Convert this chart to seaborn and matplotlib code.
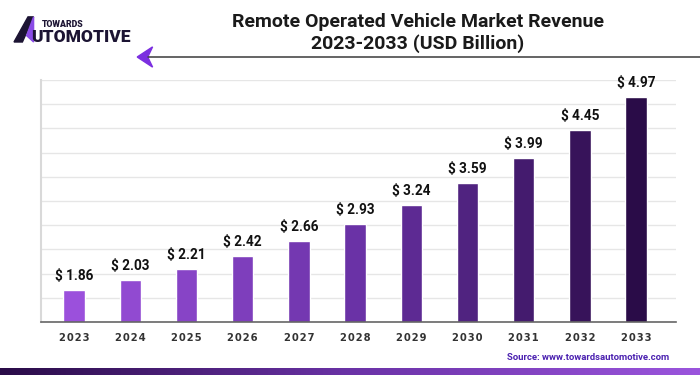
import numpy as np
import pandas as pd
import matplotlib
matplotlib.use("Agg")
from matplotlib import pyplot as plt
from matplotlib.colors import LinearSegmentedColormap
from matplotlib.patches import Polygon
from matplotlib.lines import Line2D
import seaborn as sns

years = ["2023", "2024", "2025", "2026", "2027", "2028", "2029", "2030", "2031", "2032", "2033"]
revenue = [1.86, 2.03, 2.21, 2.42, 2.66, 2.93, 3.24, 3.59, 3.99, 4.45, 4.97]

title = "Remote Operated Vehicle Market Revenue\n2023-2033 (USD Billion)"
source = "Source: www.towardsautomotive.com"

sns.set_style("white")
plt.rcParams["font.family"] = ["Roboto", "DejaVu Sans"]

purple_map = LinearSegmentedColormap.from_list("tp", ["#9b50dc", "#6a32a6", "#2a0c48"])
bar_colors = [purple_map(i / (len(years) - 1)) for i in range(len(years))]

df = pd.DataFrame({"Year": years, "Revenue": revenue})

fig = plt.figure(figsize=(7, 3.75), dpi=100)
ax = fig.add_axes([0.0586, 0.1413, 0.907, 0.6453])

sns.barplot(data=df, x="Year", y="Revenue", hue="Year", palette=bar_colors,
            legend=False, width=0.38, ax=ax, saturation=1)

y_lo, y_hi = 1.35, 5.25
ax.set_ylim(y_lo, y_hi)
ax.set_xlim(-0.59, 10.71)
ax.set_yticks(np.linspace(y_lo, y_hi, 11))
ax.set_yticklabels([])
ax.tick_params(axis="y", length=0)
ax.grid(axis="y", color="#e6e6e6", linewidth=1)
ax.set_axisbelow(True)

ax.set_xticks(range(len(years)))
ax.set_xticklabels(["\u200a".join(y) for y in years], fontsize=7.2,
                   fontweight="bold", color="#333333", family=["DejaVu Sans"])
ax.tick_params(axis="x", length=0, pad=8)
ax.set_xlabel("")
ax.set_ylabel("")

for side in ["top", "right"]:
    ax.spines[side].set_visible(False)
ax.spines["left"].set_color("#d9d9d9")
ax.spines["left"].set_linewidth(1.5)
ax.spines["bottom"].set_color("#666666")
ax.spines["bottom"].set_linewidth(1.2)

for i, v in enumerate(revenue):
    ax.annotate(f"$ {v:.2f}", (i, v), xytext=(0, 5), textcoords="offset points",
                ha="center", va="bottom", fontsize=9.8, fontweight="bold", color="#111111")

fig.text(0.597, 0.912, title, ha="center", va="center", fontsize=14,
         fontweight="bold", color="#1a1a1a", linespacing=1.2)

fig.text(0.956, 0.048, source, ha="right", va="center", fontsize=6.8,
         fontweight="bold", color="#4b21b0")

# header rule with arrow
fig.add_artist(Line2D([0.212, 1.0], [0.848, 0.848], color="#3a3a3a", linewidth=1.1))
fig.add_artist(Polygon([[0.196, 0.848], [0.218, 0.875], [0.211, 0.848], [0.218, 0.821]],
                       closed=True, color="#7b2fe0", transform=fig.transFigure))

# logo
fig.add_artist(Polygon([[0.020, 0.888], [0.040, 0.955], [0.048, 0.955], [0.032, 0.888]],
                       closed=True, color="#1c1433", transform=fig.transFigure))
fig.add_artist(Polygon([[0.038, 0.905], [0.048, 0.955], [0.048, 0.888]],
                       closed=True, color="#8a4be6", transform=fig.transFigure))
fig.text(0.060, 0.935, "TOWARDS", fontsize=6.3, fontweight="heavy", color="#1c1433",
         ha="left", va="center")
fig.text(0.044, 0.900, "UTOMOTIVE", fontsize=12.5, fontweight="heavy", color="#1c1433",
         ha="left", va="center")

# bottom gradient band
band = fig.add_axes([0, 0, 1, 0.018])
band.imshow(np.linspace(0, 1, 256).reshape(1, -1), aspect="auto",
            cmap=LinearSegmentedColormap.from_list("band", ["#2a0c48", "#6a32a6", "#9b55dd"]))
band.axis("off")

fig.savefig("out.png", dpi=100)
